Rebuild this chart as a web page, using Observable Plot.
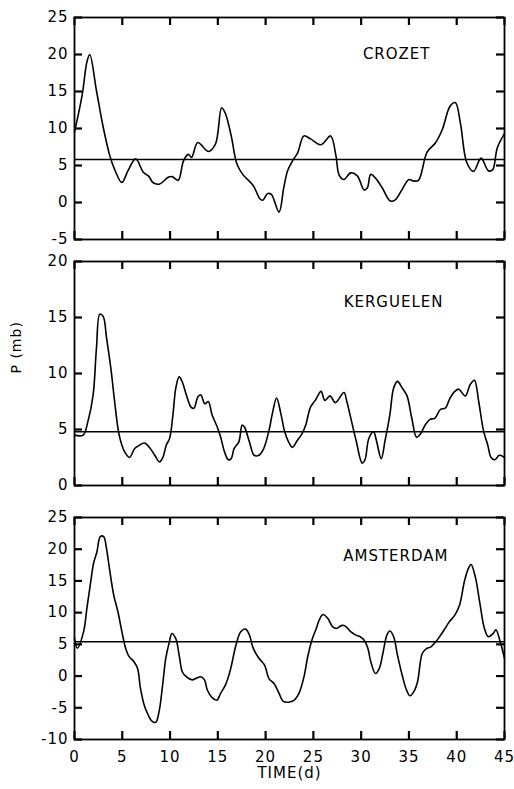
<!DOCTYPE html>
<html>
<head>
<meta charset="utf-8">
<script src="https://cdn.jsdelivr.net/npm/d3@7"></script>
<script src="https://cdn.jsdelivr.net/npm/@observablehq/plot@0.6"></script>
<style>
  body { margin: 0; background: #fff; }
  #chart { width: 514px; }
  #chart svg { display: block; }
</style>
</head>
<body>
<div id="chart"></div>
<script>
// ---- data ----
const stations = ["CROZET", "KERGUELEN", "AMSTERDAM"];
const xLabel = "TIME(d)";
const yLabel = "P (mb)";

const crozetT = [0, 0.8, 1.3, 1.6, 2.3, 3.0, 3.7, 4.25, 4.95, 5.6, 6.4, 7.2, 7.8, 8.2, 8.9, 9.8, 10.2, 10.85, 11.4, 11.9, 12.25, 12.9, 14.0, 14.75, 15.4, 15.8, 16.4, 17.0, 17.6, 18.7, 19.4, 19.7, 20.2, 20.6, 21.4, 21.9, 22.3, 22.8, 23.35, 24.0, 24.7, 25.8, 26.8, 27.35, 27.7, 28.2, 28.9, 29.6, 30.3, 30.65, 31.0, 31.5, 32.2, 33.05, 33.6, 34.3, 35.0, 35.5, 36.0, 36.9, 37.8, 38.5, 39.3, 39.85, 40.4, 41.05, 41.75, 42.55, 43.3, 43.75, 44.25, 45.0];
const crozetP = [9.5, 14.5, 19.0, 20.0, 15.1, 10.2, 6.3, 4.3, 2.7, 4.3, 5.9, 4.1, 3.5, 2.7, 2.5, 3.4, 3.5, 3.0, 5.6, 6.5, 6.1, 8.1, 6.9, 7.9, 12.8, 12.0, 9.0, 5.2, 3.8, 2.3, 0.5, 0.3, 1.2, 1.1, -1.3, 2.0, 4.3, 5.6, 6.7, 9.0, 8.6, 7.8, 9.0, 6.4, 3.7, 3.1, 4.0, 3.6, 1.7, 2.0, 3.8, 3.3, 2.0, 0.2, 0.4, 1.8, 3.1, 2.9, 3.0, 6.8, 8.1, 9.9, 13.0, 13.5, 10.6, 5.4, 4.2, 6.0, 4.3, 4.4, 7.4, 9.3];

const kerguelenT = [0, 0.9, 1.4, 1.95, 2.3, 2.65, 3.0, 3.35, 3.8, 4.2, 4.55, 4.85, 5.25, 5.75, 6.3, 6.8, 7.3, 7.85, 8.4, 8.9, 9.25, 9.6, 9.95, 10.3, 10.6, 10.95, 11.3, 11.7, 12.2, 12.5, 12.9, 13.2, 13.65, 14.0, 14.4, 14.95, 15.3, 15.7, 16.1, 16.4, 16.7, 17.2, 17.55, 17.8, 18.3, 18.8, 19.3, 19.8, 20.4, 20.7, 21.15, 21.6, 22.0, 22.4, 22.8, 23.3, 23.8, 24.2, 24.7, 25.2, 25.8, 26.2, 26.75, 27.3, 28.2, 28.5, 29.0, 29.5, 30.1, 30.4, 30.8, 31.3, 31.6, 32.1, 32.5, 33.0, 33.4, 33.8, 34.3, 34.8, 35.3, 35.8, 36.2, 36.7, 37.2, 37.7, 38.3, 38.8, 39.3, 39.8, 40.2, 40.9, 41.4, 41.85, 42.3, 42.8, 43.25, 43.6, 44.0, 44.45, 45.0];
const kerguelenP = [4.5, 4.5, 5.7, 8.1, 12.3, 15.3, 15.1, 13.2, 10.5, 7.5, 5.1, 3.9, 3.0, 2.5, 3.3, 3.6, 3.8, 3.4, 2.7, 2.1, 2.5, 3.6, 4.2, 6.3, 8.7, 9.7, 9.2, 8.1, 7.0, 6.9, 7.9, 8.1, 7.3, 7.5, 6.3, 5.2, 4.3, 3.0, 2.3, 2.4, 3.3, 3.9, 5.4, 5.2, 3.9, 2.7, 2.7, 3.3, 5.1, 6.4, 7.8, 6.4, 4.8, 3.9, 3.4, 4.0, 4.6, 5.4, 7.0, 7.6, 8.4, 7.6, 8.0, 7.4, 8.3, 7.5, 5.7, 3.9, 2.0, 2.3, 4.2, 4.8, 4.0, 2.4, 4.0, 6.3, 8.7, 9.3, 8.7, 8.0, 6.0, 4.3, 4.6, 5.4, 5.9, 6.0, 6.8, 6.9, 7.8, 8.4, 8.6, 8.0, 9.0, 9.4, 7.5, 4.9, 3.6, 2.5, 2.3, 2.7, 2.5];

const amsterdamT = [0, 0.3, 0.95, 1.3, 1.7, 2.0, 2.35, 2.7, 3.05, 3.35, 3.7, 4.1, 4.55, 5.0, 5.35, 5.7, 6.2, 6.6, 6.9, 7.3, 7.7, 8.1, 8.5, 8.85, 9.2, 9.55, 9.9, 10.2, 10.6, 10.95, 11.3, 11.7, 12.3, 12.8, 13.2, 13.6, 13.9, 14.4, 14.9, 15.3, 15.8, 16.3, 16.9, 17.4, 17.9, 18.3, 18.7, 19.3, 19.9, 20.35, 20.9, 21.4, 21.85, 22.5, 23.0, 23.5, 24.05, 24.4, 24.85, 25.3, 25.6, 26.0, 26.5, 27.0, 27.4, 28.0, 28.4, 28.9, 29.4, 29.9, 30.3, 30.7, 31.0, 31.5, 31.9, 32.3, 32.7, 33.0, 33.4, 33.8, 34.3, 34.7, 35.1, 35.6, 35.9, 36.4, 36.8, 37.3, 37.8, 38.2, 38.7, 39.2, 39.8, 40.3, 40.8, 41.2, 41.5, 41.95, 42.4, 42.9, 43.3, 43.8, 44.1, 44.5, 45.0];
const amsterdamP = [6.0, 4.4, 7.0, 10.7, 14.9, 17.8, 19.6, 22.0, 22.0, 20.1, 16.5, 12.8, 10.1, 6.7, 4.4, 3.1, 2.3, 1.2, -1.9, -4.6, -6.1, -7.1, -7.3, -5.6, -1.7, 2.8, 5.2, 6.7, 5.9, 3.3, 0.6, -0.1, -0.6, -0.3, -0.1, -0.6, -2.2, -3.4, -3.8, -2.7, -1.4, 0.9, 4.9, 7.0, 7.4, 6.5, 4.4, 2.8, 1.7, -0.4, -1.2, -2.7, -4.0, -4.1, -3.8, -2.7, 0.1, 3.0, 5.7, 7.5, 8.8, 9.7, 9.1, 7.8, 7.5, 8.0, 7.8, 7.0, 6.5, 6.2, 5.7, 4.4, 2.3, 0.4, 1.2, 3.8, 6.5, 7.1, 6.2, 3.3, 0.1, -2.0, -3.1, -2.2, -0.9, 3.6, 4.3, 4.6, 5.4, 6.2, 7.3, 8.5, 9.6, 11.2, 14.9, 16.9, 17.6, 15.6, 11.7, 7.5, 6.2, 6.7, 7.3, 5.7, 2.8];

const means = [5.8, 4.8, 5.4];
const yDomains = [[-5, 25], [0, 20], [-10, 25]];
const yTicks = [[-5, 0, 5, 10, 15, 20, 25], [0, 5, 10, 15, 20], [-10, -5, 0, 5, 10, 15, 20, 25]];
const xTicks = [0, 5, 10, 15, 20, 25, 30, 35, 40, 45];

// ---- layout ----
const series = [[crozetT, crozetP], [kerguelenT, kerguelenP], [amsterdamT, amsterdamP]];
const W = 514, ML = 74, MR = 10;
const layout = [
  {height: 250, mt: 17, mb: 11, ldx: -74, ldy: 37},
  {height: 250, mt: 11, mb: 15, ldx: -61, ldy: 41},
  {height: 289, mt: 17, mb: 50, ldx: -56, ldy: 39}
];
const fmt = d => String(d);
const TS = 8;    // inward tick length in px
const SW = 2.2;  // tick stroke weight

const container = document.getElementById("chart");
series.forEach(([T, P], i) => {
  const L = layout[i];
  const innerW = W - ML - MR;
  const innerH = L.height - L.mt - L.mb;
  const [y0, y1] = yDomains[i];
  // tick length converted to data units
  const dxLen = TS * 45 / innerW;
  const dyLen = TS * (y1 - y0) / innerH;
  const data = T.map((t, j) => ({t, p: P[j]}));
  const last = i === 2;
  const marks = [
    Plot.ruleY([means[i]], {stroke: "#000", strokeWidth: 1.5}),
    Plot.line(data, {x: "t", y: "p", stroke: "#000", strokeWidth: 1.6, curve: "catmull-rom"}),
    // inward ticks on all four sides
    Plot.ruleY(yTicks[i], {y: d => d, x1: 0, x2: dxLen, stroke: "#000", strokeWidth: SW}),
    Plot.ruleY(yTicks[i], {y: d => d, x1: 45 - dxLen, x2: 45, stroke: "#000", strokeWidth: SW}),
    Plot.ruleX(xTicks, {x: d => d, y1: y1 - dyLen, y2: y1, stroke: "#000", strokeWidth: SW}),
    Plot.ruleX(xTicks, {x: d => d, y1: y0, y2: y0 + dyLen, stroke: "#000", strokeWidth: SW}),
    Plot.frame({stroke: "#000", strokeWidth: 1.8}),
    // tick labels
    Plot.axisY(yTicks[i], {anchor: "left", tickSize: 0, tickPadding: 6, tickFormat: fmt, label: null}),
    Plot.text([stations[i]], {text: d => d, frameAnchor: "top-right", textAnchor: "end", lineAnchor: "middle", dx: L.ldx, dy: L.ldy, fontSize: 15})
  ];
  if (last) {
    marks.push(Plot.axisX(xTicks, {anchor: "bottom", tickSize: 0, tickPadding: 12, tickFormat: fmt, label: null}));
    marks.push(Plot.text([xLabel], {text: d => d, frameAnchor: "bottom", dy: 34, lineAnchor: "middle", fontSize: 15}));
  }
  if (i === 1) {
    marks.push(Plot.text([yLabel], {text: d => d, frameAnchor: "left", dx: -58, rotate: -90, fontSize: 14}));
  }
  const chart = Plot.plot({
    width: W,
    height: L.height,
    marginTop: L.mt,
    marginBottom: L.mb,
    marginLeft: ML,
    marginRight: MR,
    x: {domain: [0, 45], label: null, axis: null},
    y: {domain: yDomains[i], label: null, axis: null},
    style: {fontFamily: "DejaVu Sans, sans-serif", fontSize: "15px", letterSpacing: "1px", color: "#000", background: "#fff"},
    marks
  });
  container.appendChild(chart);
});
</script>
</body>
</html>
